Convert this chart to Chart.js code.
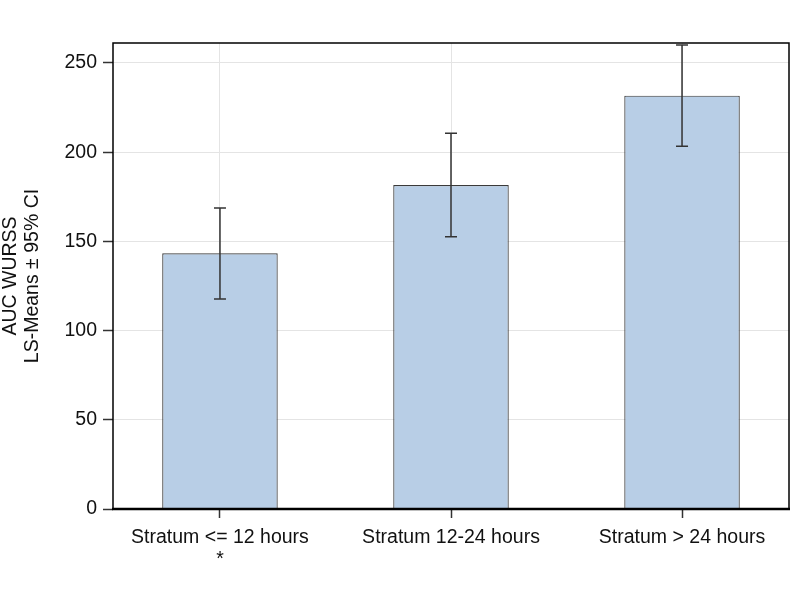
<!DOCTYPE html>
<html><head><meta charset="utf-8">
<script src="https://cdn.jsdelivr.net/npm/chart.js@4.4.0/dist/chart.umd.min.js"></script>
<style>html,body{margin:0;padding:0;background:#fff}#wrap{width:800px;height:612px}</style>
</head><body><div id="wrap"><canvas id="c" width="800" height="612"></canvas></div>
<script>
const categories = [["Stratum <= 12 hours", "*"], ["Stratum 12-24 hours"], ["Stratum > 24 hours"]];
const means = [143.3, 181.6, 231.7];
const lowerCI = [117.7, 152.6, 203.3];
const upperCI = [168.7, 210.6, 260.1];
const yTicks = [0, 50, 100, 150, 200, 250];
const yTitle = ["AUC WURSS", "LS-Means \u00b1 95% CI"];

const FONT = "'Liberation Sans', Arial, sans-serif";

const errorBars = {
  id: 'errorBars',
  afterDatasetsDraw(chart) {
    const { ctx, scales: { x, y } } = chart;
    ctx.save();
    ctx.strokeStyle = '#333';
    ctx.lineWidth = 1.5;
    means.forEach((m, i) => {
      const px = x.getPixelForValue(i);
      const top = y.getPixelForValue(upperCI[i]);
      const bot = y.getPixelForValue(lowerCI[i]);
      ctx.beginPath();
      ctx.moveTo(px, top); ctx.lineTo(px, bot);
      ctx.moveTo(px - 6, top); ctx.lineTo(px + 6, top);
      ctx.moveTo(px - 6, bot); ctx.lineTo(px + 6, bot);
      ctx.stroke();
    });
    ctx.restore();
  }
};

const frame = {
  id: 'frame',
  afterDraw(chart) {
    const { ctx, chartArea: a } = chart;
    ctx.save();
    ctx.strokeStyle = '#000';
    ctx.lineWidth = 1.5;
    ctx.strokeRect(a.left, a.top, a.right - a.left, a.bottom - a.top);
    ctx.lineWidth = 2.5;
    ctx.beginPath(); ctx.moveTo(a.left - 1, a.bottom); ctx.lineTo(a.right + 1, a.bottom); ctx.stroke();
    ctx.restore();
  }
};

new Chart(document.getElementById('c'), {
  type: 'bar',
  data: {
    datasets: [{
      data: means.map((v, i) => ({ x: i, y: v })),
      backgroundColor: '#B8CEE6',
      borderColor: '#3a3a3a',
      borderWidth: 1.2,
      categoryPercentage: 0.5,
      barPercentage: 1.0
    }]
  },
  options: {
    responsive: false,
    animation: false,
    layout: { padding: { top: 43, right: 11, left: 0, bottom: 0 } },
    plugins: { legend: { display: false }, tooltip: { enabled: false } },
    scales: {
      x: {
        type: 'linear',
        offset: false,
        min: -0.463, max: 2.463,
        afterBuildTicks: (s) => { s.ticks = categories.map((c, i) => ({ value: i })); },
        afterFit: (s) => { s.height = 103; },
        ticks: {
          callback: (v) => categories[v],
          font: { family: FONT, size: 19.5, lineHeight: 1.1 },
          color: '#111',
          padding: 9,
          maxRotation: 0,
          autoSkip: false
        },
        grid: { offset: false, color: '#e4e4e4', lineWidth: 1, tickColor: '#333', tickLength: 9, tickWidth: 1.5 },
        border: { display: false }
      },
      y: {
        min: 0, max: 261.2,
        afterBuildTicks: (s) => { s.ticks = yTicks.map(v => ({ value: v })); },
        afterFit: (s) => { s.width = 113; },
        ticks: {
          font: { family: FONT, size: 19.5 },
          color: '#111',
          padding: 6
        },
        grid: { color: '#e4e4e4', lineWidth: 1, tickColor: '#333', tickLength: 10, tickWidth: 1.5 },
        border: { display: false },
        title: {
          display: true,
          text: yTitle,
          font: { family: FONT, size: 19.5, lineHeight: 1.12 },
          color: '#111',
          padding: { top: 0, bottom: 0 }
        }
      }
    }
  },
  plugins: [errorBars, frame]
});
</script>
</body></html>
